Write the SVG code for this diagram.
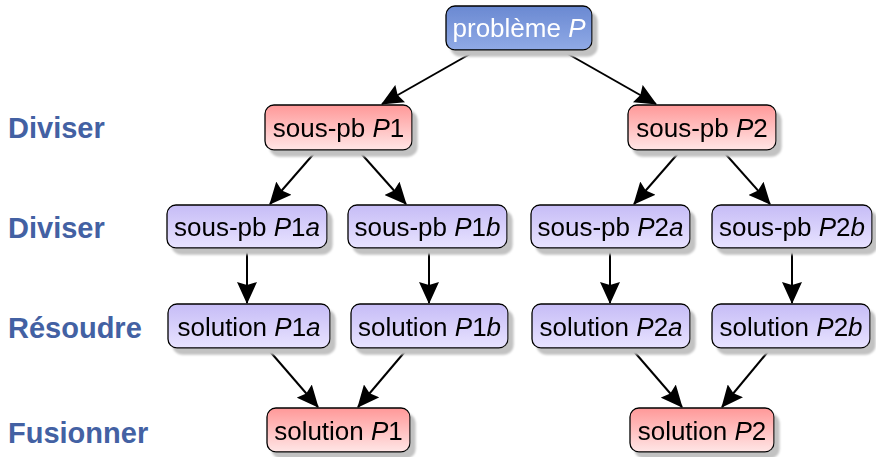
<svg xmlns="http://www.w3.org/2000/svg" width="876" height="457" viewBox="0 0 876 457">
<style>
.box{stroke:#000;stroke-width:1.3}
.blue{fill:url(#gBlue)}
.red{fill:url(#gRed)}
.pur{fill:url(#gPur)}
.t{font-family:"Liberation Sans",Arial,sans-serif;font-size:26px;fill:#000;text-anchor:middle}
.w{fill:#fff}
.i{font-style:italic}
.lab{font-family:"Liberation Sans",Arial,sans-serif;font-size:29px;font-weight:bold;fill:#4361a3}
.c{stroke:#000;stroke-width:2;fill:none;marker-end:url(#arr)}
</style>
<defs>
<linearGradient id="gBlue" x1="0" y1="0" x2="0" y2="1"><stop offset="0" stop-color="#6a89d2"/><stop offset="1" stop-color="#90aae6"/></linearGradient>
<linearGradient id="gRed" x1="0" y1="0" x2="0" y2="1"><stop offset="0" stop-color="#ff9898"/><stop offset="1" stop-color="#ffe6e6"/></linearGradient>
<linearGradient id="gPur" x1="0" y1="0" x2="0" y2="1"><stop offset="0" stop-color="#c6bcf6"/><stop offset="1" stop-color="#e8e3ff"/></linearGradient>
<filter id="sh" x="-10%" y="-20%" width="130%" height="160%">
<feOffset in="SourceAlpha" dx="5" dy="6" result="o"/>
<feGaussianBlur in="o" stdDeviation="0.8" result="b"/>
<feFlood flood-color="#c2c2c2"/>
<feComposite in2="b" operator="in" result="s"/>
<feMerge><feMergeNode in="s"/><feMergeNode in="SourceGraphic"/></feMerge>
</filter>
<marker id="arr" markerUnits="strokeWidth" viewBox="0 0 22 20" markerWidth="11" markerHeight="10" refX="21" refY="10" orient="auto">
<path d="M0,0 L22,10 L0,20 L3,10 z" fill="#000"/>
</marker>
</defs>

<g id="labels">
<text class="lab" x="8" y="138">Diviser</text>
<text class="lab" x="8" y="238">Diviser</text>
<text class="lab" x="8" y="338">Résoudre</text>
<text class="lab" x="8" y="443">Fusionner</text>
</g>

<g id="connectors">
<line class="c" x1="477" y1="50" x2="382" y2="104"/>
<line class="c" x1="561" y1="50" x2="656" y2="104"/>
<line class="c" x1="317" y1="150" x2="270" y2="204"/>
<line class="c" x1="358" y1="150" x2="406" y2="204"/>
<line class="c" x1="681" y1="150" x2="634" y2="204"/>
<line class="c" x1="722" y1="150" x2="770" y2="204"/>
<line class="c" x1="247" y1="248" x2="247" y2="303"/>
<line class="c" x1="429" y1="248" x2="429" y2="303"/>
<line class="c" x1="610" y1="248" x2="610" y2="303"/>
<line class="c" x1="792" y1="248" x2="792" y2="303"/>
<line class="c" x1="267" y1="348" x2="318" y2="407"/>
<line class="c" x1="408" y1="348" x2="358" y2="407"/>
<line class="c" x1="631" y1="348" x2="682" y2="407"/>
<line class="c" x1="771" y1="348" x2="722" y2="407"/>
</g>

<g id="n-P" filter="url(#sh)"><rect class="box blue" x="446" y="6" width="146" height="44" rx="9"/><text class="t w" x="519" y="37">problème <tspan class="i">P</tspan></text></g>

<g id="n-P1" filter="url(#sh)"><rect class="box red" x="265" y="105" width="147" height="45" rx="9"/><text class="t" x="338.5" y="137">sous-pb <tspan class="i">P</tspan>1</text></g>
<g id="n-P2" filter="url(#sh)"><rect class="box red" x="628" y="105" width="148" height="45" rx="9"/><text class="t" x="702" y="137">sous-pb <tspan class="i">P</tspan>2</text></g>

<g id="n-P1a" filter="url(#sh)"><rect class="box pur" x="167" y="205" width="160" height="43" rx="9"/><text class="t" x="247" y="236">sous-pb <tspan class="i">P</tspan>1<tspan class="i">a</tspan></text></g>
<g id="n-P1b" filter="url(#sh)"><rect class="box pur" x="348" y="205" width="159" height="43" rx="9"/><text class="t" x="427.5" y="236">sous-pb <tspan class="i">P</tspan>1<tspan class="i">b</tspan></text></g>
<g id="n-P2a" filter="url(#sh)"><rect class="box pur" x="531" y="205" width="159" height="43" rx="9"/><text class="t" x="610.5" y="236">sous-pb <tspan class="i">P</tspan>2<tspan class="i">a</tspan></text></g>
<g id="n-P2b" filter="url(#sh)"><rect class="box pur" x="712" y="205" width="160" height="43" rx="9"/><text class="t" x="792" y="236">sous-pb <tspan class="i">P</tspan>2<tspan class="i">b</tspan></text></g>

<g id="n-S1a" filter="url(#sh)"><rect class="box pur" x="168" y="304" width="162" height="44" rx="9"/><text class="t" x="249" y="335.5">solution <tspan class="i">P</tspan>1<tspan class="i">a</tspan></text></g>
<g id="n-S1b" filter="url(#sh)"><rect class="box pur" x="351" y="304" width="157" height="44" rx="9"/><text class="t" x="429.5" y="335.5">solution <tspan class="i">P</tspan>1<tspan class="i">b</tspan></text></g>
<g id="n-S2a" filter="url(#sh)"><rect class="box pur" x="532" y="304" width="158" height="44" rx="9"/><text class="t" x="611" y="335.5">solution <tspan class="i">P</tspan>2<tspan class="i">a</tspan></text></g>
<g id="n-S2b" filter="url(#sh)"><rect class="box pur" x="712" y="304" width="158" height="44" rx="9"/><text class="t" x="791" y="335.5">solution <tspan class="i">P</tspan>2<tspan class="i">b</tspan></text></g>

<g id="n-S1" filter="url(#sh)"><rect class="box red" x="267" y="408" width="143" height="44" rx="9"/><text class="t" x="338.5" y="439.5">solution <tspan class="i">P</tspan>1</text></g>
<g id="n-S2" filter="url(#sh)"><rect class="box red" x="630" y="408" width="144" height="44" rx="9"/><text class="t" x="702" y="439.5">solution <tspan class="i">P</tspan>2</text></g>
</svg>
